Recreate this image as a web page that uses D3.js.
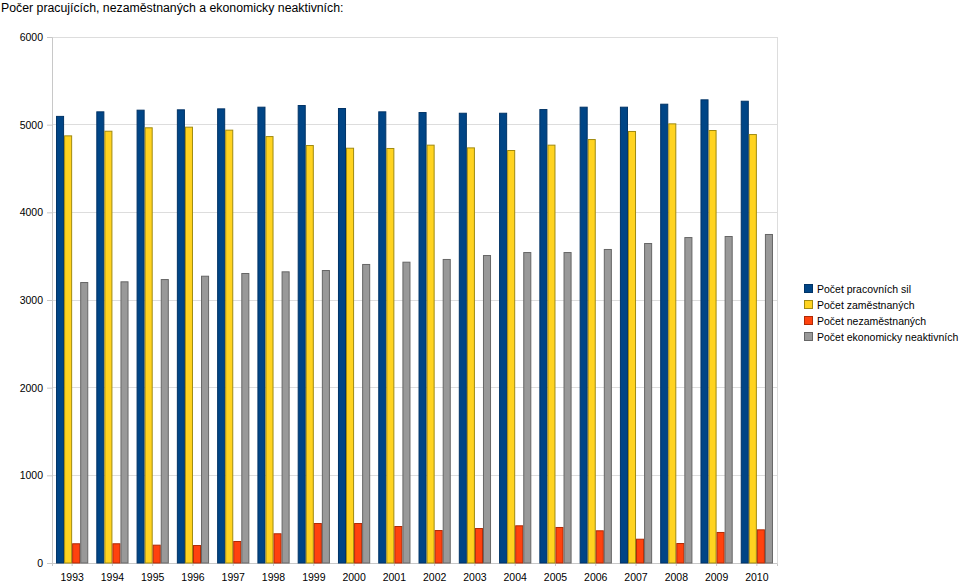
<!DOCTYPE html>
<html><head><meta charset="utf-8">
<script src="https://cdn.jsdelivr.net/npm/d3@7"></script>
<style>body{margin:0;background:#fff;}svg{display:block;font-family:"Liberation Sans",Arial,sans-serif;}</style>
</head><body><svg id="c" width="960" height="585"></svg>
<script>
const years = ["1993","1994","1995","1996","1997","1998","1999","2000","2001","2002","2003","2004","2005","2006","2007","2008","2009","2010"];
const seriesNames = ["Počet pracovních sil","Počet zaměstnaných","Počet nezaměstnaných","Počet ekonomicky neaktivních"];
const pracovniSily = [5100,5152,5171,5175,5186,5205,5224,5190,5152,5144,5136,5136,5178,5205,5205,5239,5289,5273];
const zamestnani   = [4878,4931,4970,4977,4943,4870,4768,4737,4734,4772,4741,4711,4772,4836,4928,5015,4939,4893];
const nezamestnani = [225,225,209,205,251,339,456,456,422,376,399,430,411,373,277,228,354,384];
const neaktivni    = [3205,3213,3239,3277,3308,3327,3342,3411,3437,3468,3513,3547,3547,3582,3650,3718,3730,3753];
const yTicks = [0,1000,2000,3000,4000,5000,6000];
const colors = ["#004586","#ffd320","#ff420e","#999999"];
const strokes = ["#003366","#a08a10","#b02a05","#666666"];
const allSeries = [pracovniSily, zamestnani, nezamestnani, neaktivni];

const svg = d3.select("#c");
const L = 52, R = 777, T = 37, B = 563;
const FS = 10.5;
const x = d3.scaleBand().domain(years).range([L, R]).paddingInner(0.2).paddingOuter(0.1);
const xs = d3.scaleBand().domain(d3.range(4)).range([0, x.bandwidth()]);
const y = d3.scaleLinear().domain([0, 6000]).range([B, T]);

svg.append("text").attr("x", 1).attr("y", 12).attr("font-size", 12.3).attr("fill", "#000")
  .text("Počer pracujících, nezaměstnaných a ekonomicky neaktivních:");

// grid
svg.append("g").selectAll("line").data(yTicks).join("line")
  .attr("x1", L).attr("x2", R).attr("y1", d => y(d)).attr("y2", d => y(d))
  .attr("stroke", "#dddddd").attr("stroke-width", 1).attr("shape-rendering", "crispEdges");
svg.append("line").attr("x1", R).attr("x2", R).attr("y1", T).attr("y2", B)
  .attr("stroke", "#dddddd").attr("shape-rendering", "crispEdges");

// y axis
const ya = svg.append("g").attr("transform", `translate(${L},0)`)
  .call(d3.axisLeft(y).tickValues(yTicks).tickSize(5).tickPadding(4).tickFormat(d3.format("d")));
ya.select(".domain").attr("stroke", "#c8c8c8");
ya.selectAll(".tick line").attr("stroke", "#c8c8c8");
ya.selectAll("text").attr("font-size", FS).attr("fill", "#000").attr("font-family", "Liberation Sans, Arial, sans-serif");

// x axis
const xa = svg.append("g").attr("transform", `translate(0,${B})`)
  .call(d3.axisBottom(x).tickSize(3).tickPadding(8));
xa.select(".domain").attr("stroke", "#c8c8c8");
xa.selectAll(".tick line").attr("stroke", "#c8c8c8");
xa.selectAll("text").attr("font-size", FS).attr("fill", "#000").attr("font-family", "Liberation Sans, Arial, sans-serif");

// bars
const g = svg.append("g");
allSeries.forEach((vals, si) => {
  g.append("g").selectAll("rect").data(vals).join("rect")
    .attr("x", (d, i) => x(years[i]) + xs(si) + 0.5)
    .attr("width", xs.bandwidth() - 1)
    .attr("y", d => y(d) + 0.5)
    .attr("height", d => B - y(d) - 0.5)
    .attr("fill", colors[si]).attr("stroke", strokes[si]).attr("stroke-width", 1);
});

// legend
const lg = svg.append("g").attr("transform", "translate(804,284)");
seriesNames.forEach((n, i) => {
  lg.append("rect").attr("x", 0.5).attr("y", i * 16 + 0.5).attr("width", 8).attr("height", 8)
    .attr("fill", colors[i]).attr("stroke", strokes[i]);
  lg.append("text").attr("x", 13).attr("y", i * 16 + 8.5).attr("font-size", FS).attr("fill", "#000").text(n);
});
</script></body></html>
